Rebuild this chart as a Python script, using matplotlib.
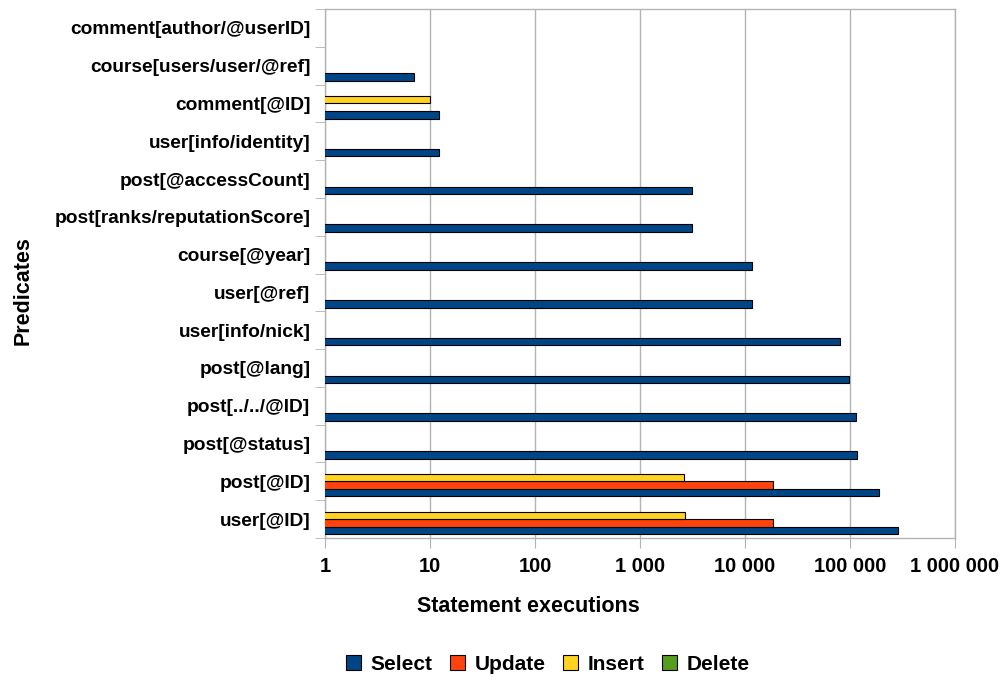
import matplotlib
matplotlib.use("Agg")
import matplotlib.pyplot as plt
from matplotlib.ticker import FuncFormatter
import numpy as np

plt.rcParams['font.family'] = ['Liberation Sans', 'DejaVu Sans']
plt.rcParams['font.weight'] = 'bold'

# Predicates, bottom to top
predicates = ["user[@ID]", "post[@ID]", "post[@status]", "post[../../@ID]",
              "post[@lang]", "user[info/nick]", "user[@ref]", "course[@year]",
              "post[ranks/reputationScore]", "post[@accessCount]",
              "user[info/identity]", "comment[@ID]", "course[users/user/@ref]",
              "comment[author/@userID]"]

selectCounts = [285000, 189000, 117000, 115000, 98600, 79800, 11750, 11750,
                3140, 3140, 12.2, 12.2, 7.1, 0]
updateCounts = [18500, 18500, 0, 0, 0, 0, 0, 0, 0, 0, 0, 0, 0, 0]
insertCounts = [2700, 2650, 0, 0, 0, 0, 0, 0, 0, 0, 0, 10, 0, 0]
deleteCounts = [0, 0, 0, 0, 0, 0, 0, 0, 0, 0, 0, 0, 0, 0]

seriesNames = ["Select", "Update", "Insert", "Delete"]
seriesColors = ["#004586", "#ff420e", "#ffd320", "#579d1c"]

fig = plt.figure(figsize=(10.06, 6.8), dpi=100)
ax = fig.add_axes([325/1006, 1-538/680, 630/1006, 529/680])

y = np.arange(len(predicates))
barHeight = 0.2
offsets = [-0.3, -0.1, 0.1, 0.3]
handles = []
for name, counts, color, off in zip(seriesNames,
                                    [selectCounts, updateCounts, insertCounts, deleteCounts],
                                    seriesColors, offsets):
    h = ax.barh(y + off, counts, height=barHeight, color=color,
                edgecolor="black", linewidth=0.8, label=name, zorder=3)
    handles.append(h)

ax.set_xscale("log")
ax.set_xlim(1, 1e6)
ax.set_ylim(-0.5, len(predicates) - 0.5)

gridGray = "#b3b3b3"
ax.set_xticks([10**k for k in range(7)])
ax.xaxis.set_minor_locator(matplotlib.ticker.NullLocator())
ax.xaxis.set_major_formatter(FuncFormatter(lambda v, p: f"{int(round(v)):,}".replace(",", " ")))
ax.tick_params(axis="x", length=7, color=gridGray, pad=7, labelsize=14.5)
ax.grid(axis="x", color=gridGray, linewidth=1, zorder=0)

ax.set_yticks(y)
ax.set_yticklabels(predicates)
ax.tick_params(axis="y", which="major", length=0, pad=10.5, labelsize=13.8)
ax.set_yticks(np.arange(len(predicates) + 1) - 0.5, minor=True)
ax.tick_params(axis="y", which="minor", length=7, color=gridGray)

for s in ax.spines.values():
    s.set_color(gridGray)
    s.set_linewidth(1)

fig.text(528/1006, 1-607/680, "Statement executions", ha="center", va="center", fontsize=15.5)
fig.text(23/1006, 1-291/680, "Predicates", ha="center", va="center", rotation=90, fontsize=15.5)

fig.legend(handles=handles, loc="center", bbox_to_anchor=(548/1006, 1-664/680), ncol=4,
           frameon=False, fontsize=15, handlelength=0.72, handleheight=0.72,
           handletextpad=0.45, columnspacing=0.85)

fig.savefig("out.png", dpi=100)
